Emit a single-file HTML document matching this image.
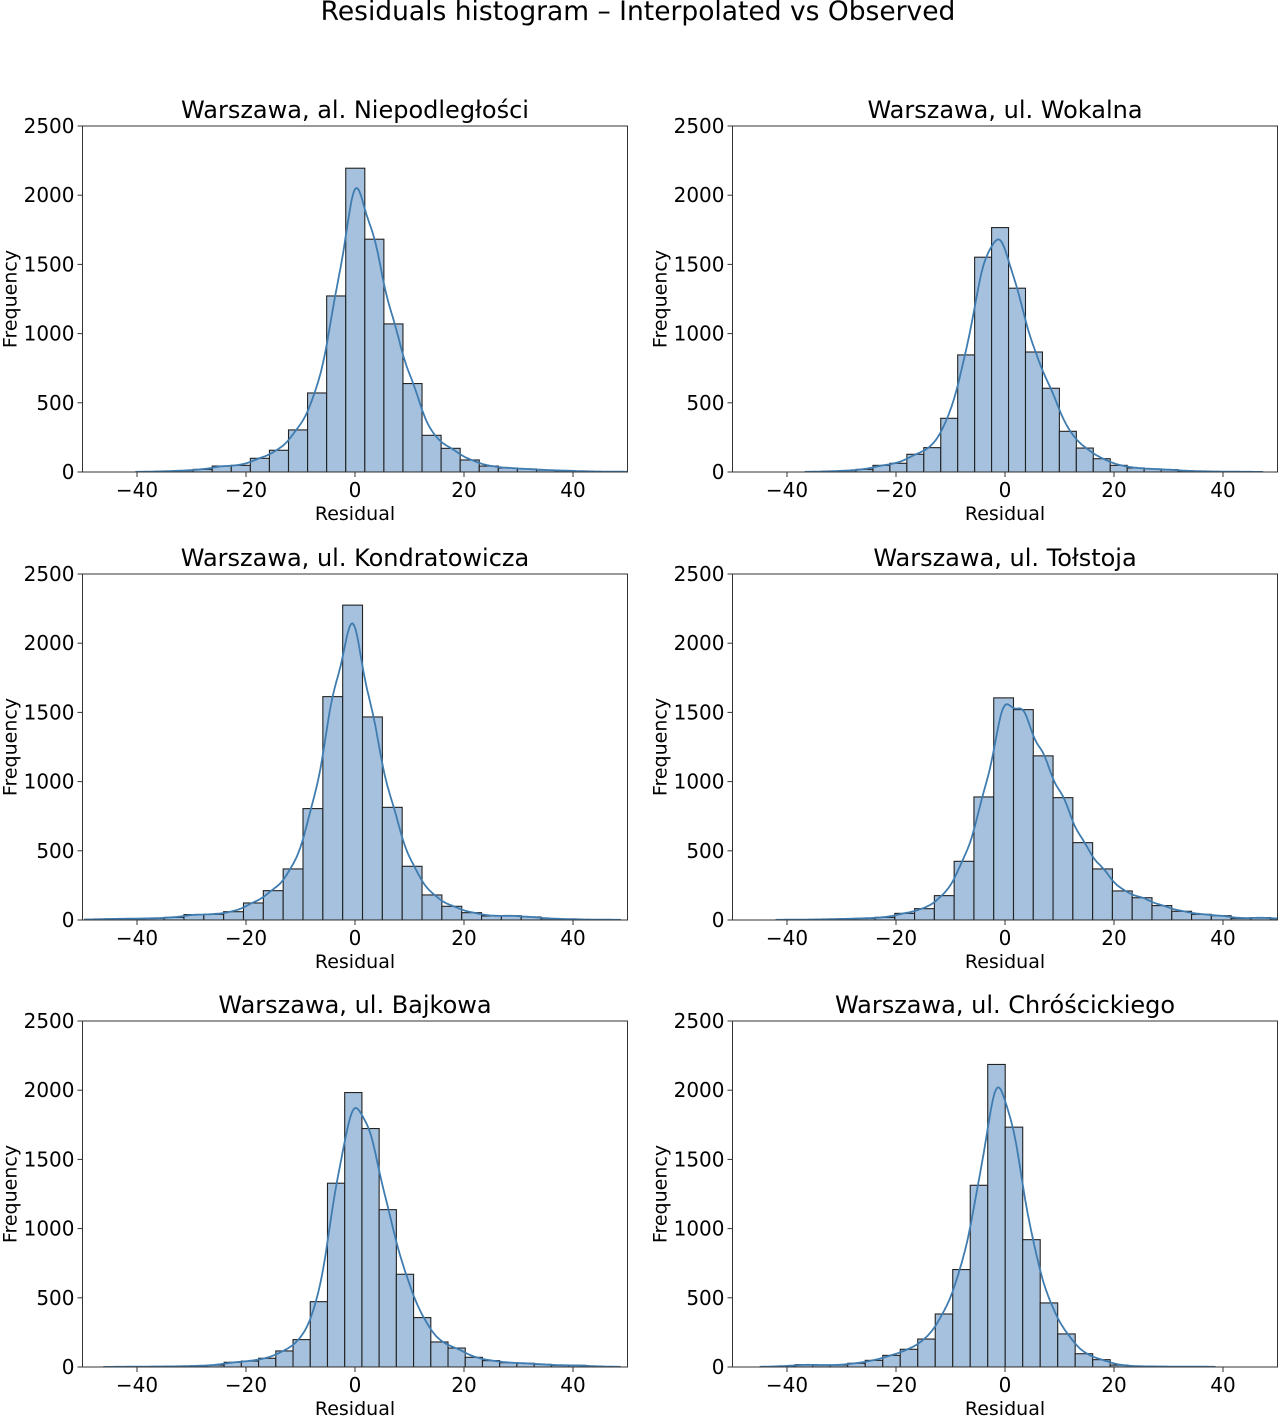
<!DOCTYPE html>
<html><head><meta charset="utf-8"><style>
html,body{margin:0;padding:0;background:#fff;}
svg{display:block;font-family:"DejaVu Sans","Liberation Sans",sans-serif;}
</style></head><body>
<svg id="chart" width="1280" height="1416" viewBox="0 0 1280 1416">
<text x="638" y="20" text-anchor="middle" font-size="26.5" fill="#000">Residuals histogram – Interpolated vs Observed</text>
</svg>
<script>
const titles = ["Warszawa, al. Niepodległości","Warszawa, ul. Wokalna","Warszawa, ul. Kondratowicza","Warszawa, ul. Tołstoja","Warszawa, ul. Bajkowa","Warszawa, ul. Chróścickiego"];
const binStarts = [-40.2,-36.67,-49.58,-42.0,-46.13,-44.9];
const binWidths = [3.5,3.11,3.64,3.63,3.16,3.21];
const counts1 = [2,5,10,19,43,48,99,157,304,571,1272,2195,1682,1070,639,265,171,87,43,29,22,14,10,5,3,2];
const counts2 = [2,5,10,19,48,63,128,176,388,846,1552,1766,1328,867,605,294,173,96,48,29,22,17,8,5,3,2,1];
const counts3 = [5,8,10,12,19,39,41,60,123,212,369,805,1614,2275,1467,814,388,181,99,53,29,31,22,10,6,3,2];
const counts4 = [2,3,5,8,12,19,48,82,176,424,889,1605,1520,1186,884,559,369,210,161,104,63,41,31,12,17,10];
const counts5 = [1,2,3,4,5,8,14,34,43,63,116,198,472,1328,1983,1723,1137,670,357,181,137,70,46,31,27,19,12,12,5,2];
const counts6 = [3,7,17,14,14,27,48,84,128,202,383,704,1313,2186,1733,920,463,239,96,53,14,5,4,3,3,2];
const allCounts = [counts1,counts2,counts3,counts4,counts5,counts6];
const xTicks = [-40,-20,0,20,40];
const yTicks = [0,500,1000,1500,2000,2500];
const xDomain = [-50,50];
const yDomain = [0,2500];

const NS = "http://www.w3.org/2000/svg";
const svg = document.getElementById('chart');
function mk(tag, attrs, parent){const e=document.createElementNS(NS,tag);for(const k in attrs)e.setAttribute(k,attrs[k]);(parent||svg).appendChild(e);return e;}
const colX=[82.5,732.5], rowY=[126,574,1021], W=545, H=346;

for(let p=0;p<6;p++){
  const ox=colX[p%2], oy=rowY[Math.floor(p/2)];
  const xs=v=>ox+(v-xDomain[0])/(xDomain[1]-xDomain[0])*W;
  const ys=v=>oy+H-(v-yDomain[0])/(yDomain[1]-yDomain[0])*H;
  const g=mk('g',{});
  
  
  const cid='clip'+p;
  const cp=mk('clipPath',{id:cid},g); mk('rect',{x:ox,y:oy,width:W,height:H},cp);
  const bars=mk('g',{'clip-path':'url(#'+cid+')'},g);
  const c=allCounts[p], s=binStarts[p], w=binWidths[p];
  c.forEach((v,i)=>{
    const x0=xs(s+i*w), x1=xs(s+(i+1)*w);
    const r=mk('rect',{x:x0,y:ys(v),width:x1-x0,height:ys(0)-ys(v),fill:'#a5c1de',stroke:'#222','stroke-width':1.1},bars);
    
    
  });
  const h=1.5; let d='';
  const lo=s, hi=s+c.length*w;
  const sg=Math.sqrt(h*h+w*w/12);
  for(let k=0;k<=400;k++){
    const x=lo+(hi-lo)*k/400; let f=0;
    c.forEach((v,i)=>{const cc=s+(i+0.5)*w;const z=(x-cc)/sg;f+=v*Math.exp(-0.5*z*z)/Math.sqrt(2*Math.PI)/sg*w;});
    d+=(k?'L':'M')+xs(x).toFixed(1)+','+ys(f).toFixed(1);
  }
  const kde=mk('path',{d:d,fill:'none',stroke:'#3f7cb0','stroke-width':1.8},bars);
  
  
  const fr=mk('rect',{x:ox,y:oy,width:W,height:H,fill:'none',stroke:'#333','stroke-width':1},g);
  
  
  xTicks.forEach(t=>{
    mk('line',{x1:xs(t),x2:xs(t),y1:oy+H,y2:oy+H+5,stroke:'#333'},g);
    const tx=mk('text',{x:xs(t),y:oy+H+25,'text-anchor':'middle','font-size':20},g);
    tx.textContent=(t<0?'\u2212'+(-t):t);
    
    
  });
  yTicks.forEach(t=>{
    mk('line',{x1:ox-5,x2:ox,y1:ys(t),y2:ys(t),stroke:'#333'},g);
    const tx=mk('text',{x:ox-8,y:ys(t)+7,'text-anchor':'end','font-size':20},g);
    tx.textContent=t;
    
    
  });
  const ti=mk('text',{x:ox+W/2,y:oy-8,'text-anchor':'middle','font-size':24},g);
  ti.textContent=titles[p];
  
  
  const xl=mk('text',{x:ox+W/2,y:oy+H+48,'text-anchor':'middle','font-size':19},g);
  xl.textContent='Residual';
  
  
  const yl=mk('text',{x:0,y:0,'text-anchor':'middle','font-size':19,transform:'translate('+(ox-66)+','+(oy+H/2)+') rotate(-90)'},g);
  yl.textContent='Frequency';
  
  
}
</script>
</body></html>
